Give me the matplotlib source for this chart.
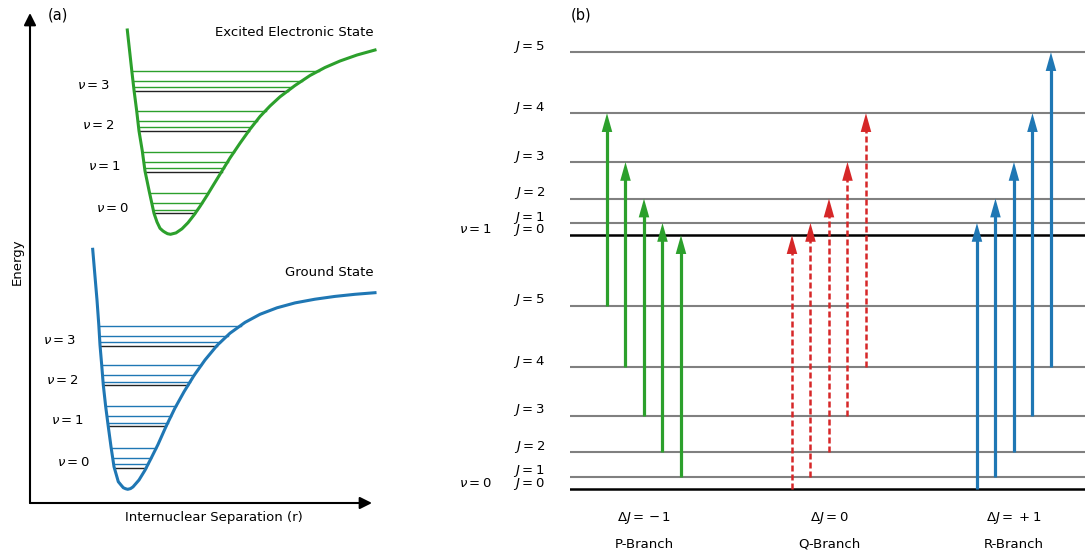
import numpy as np
import matplotlib
matplotlib.use("Agg")
import matplotlib.pyplot as plt

# ---------------- panel (a): potential curves ----------------
ground_r = [6.27, 6.70, 6.88, 7.00, 7.17, 7.33, 7.57, 7.83, 8.10, 8.40, 8.83, 9.10, 9.33, 9.55,
            9.77, 10.05, 10.30, 10.90, 11.50, 12.10, 12.80, 13.60, 14.50, 15.40, 16.40, 17.50,
            18.70, 20.00, 21.50, 23.00, 24.70, 26.50, 28.50, 30.50, 32.50, 34.50]
ground_E = [25.37, 20.30, 17.80, 15.80, 13.80, 11.80, 9.63, 7.63, 5.63, 3.63, 2.13, 1.80, 1.53, 1.43,
            1.37, 1.44, 1.61, 2.30, 3.28, 4.45, 5.85, 7.65, 9.50, 11.12, 12.75, 14.30,
            15.75, 16.98, 18.06, 18.87, 19.52, 20.01, 20.38, 20.66, 20.87, 21.03]

excited_r = [9.73, 10.17, 10.40, 10.67, 10.90, 11.23, 11.50, 11.93, 12.40, 12.70, 13.00, 13.30,
             13.50, 13.75, 14.05, 14.60, 15.20, 15.80, 16.40, 17.00, 17.70, 18.40, 19.20, 20.00,
             21.00, 22.00, 23.00, 24.00, 25.00, 26.50, 28.00, 29.50, 31.00, 32.70, 34.50]
excited_E = [47.30, 43.30, 41.30, 39.20, 37.20, 35.20, 33.20, 31.13, 28.97, 28.10, 27.47, 27.20,
             27.07, 26.93, 26.87, 27.01, 27.42, 28.03, 28.80, 29.66, 30.75, 31.90, 33.20, 34.50,
             35.98, 37.38, 38.65, 39.70, 40.62, 41.75, 42.75, 43.55, 44.20, 44.80, 45.30]

ground_v = [3.53, 7.70, 11.78, 15.75]      # J=0 level of each vibrational state
excited_v = [28.97, 33.13, 37.23, 41.23]
rot_offset = [0.0, 0.33, 1.0, 2.0]          # J = 0..3 above each v level
v_numbers = [0, 1, 2, 3]

# ---------------- panel (b): rotational ladders ----------------
J = [0, 1, 2, 3, 4, 5]
E_v0 = [0, 2, 6, 12, 20, 30]
E_v1 = [41.6, 43.6, 47.6, 53.6, 61.6, 71.6]
branch_names = ["P-Branch", "Q-Branch", "R-Branch"]
branch_text = [r"$\Delta J =\,{-}\,1$", r"$\Delta J = 0$", r"$\Delta J =\;{+}\,1$"]
delta_J = [-1, 0, 1]
start_J = [[5, 4, 3, 2, 1], [0, 1, 2, 3, 4], [0, 1, 2, 3, 4]]

blue, green, red = "#1f77b4", "#2ca02c", "#d62728"
fs = 9.5


def walls(r, E, level):
    r = np.asarray(r)
    E = np.asarray(E)
    i = np.argmin(E)
    left = np.interp(level, E[:i + 1][::-1], r[:i + 1][::-1])
    right = np.interp(level, E[i:], r[i:])
    return left, right


fig = plt.figure(figsize=(10.85, 5.55), dpi=100)

# ---- (a) ----
ax = fig.add_axes([30 / 1085, 52 / 555, 342 / 1085, 490 / 555])
ax.set_xlim(0, 34.2)
ax.set_ylim(0, 49.0)
for s in ax.spines.values():
    s.set_visible(False)
ax.set_xticks([])
ax.set_yticks([])
arrow_kw = dict(arrowstyle="-|>,head_length=0.8,head_width=0.4", color="k", lw=1.5,
                shrinkA=0, shrinkB=0, mutation_scale=9)
ax.annotate("", xy=(1, 0), xytext=(0, 0), xycoords="axes fraction", arrowprops=arrow_kw)
ax.annotate("", xy=(0, 1), xytext=(0, 0), xycoords="axes fraction", arrowprops=arrow_kw)

for r, E, levels, col in [(ground_r, ground_E, ground_v, blue),
                          (excited_r, excited_E, excited_v, green)]:
    for k, Ev in enumerate(levels):
        for j, off in enumerate(rot_offset):
            e = Ev + off
            a, b = walls(r, E, e)
            ax.plot([a, b], [e, e], color="#222222" if j == 0 else col, lw=1.0, zorder=1)
        a, _ = walls(r, E, Ev)
        ax.text(a - 2.45, Ev + 0.5, r"$\nu = %d$" % v_numbers[k], ha="right", va="center",
                fontsize=fs)
    ax.plot(r, E, color=col, lw=2.2, zorder=2, clip_on=False, solid_joinstyle="round")

ax.text(34.4, 47.1, "Excited Electronic State", ha="right", va="center", fontsize=fs)
ax.text(34.4, 23.1, "Ground State", ha="right", va="center", fontsize=fs)
ax.text(18.4, -1.5, "Internuclear Separation (r)", ha="center", va="center", fontsize=fs)
ax.text(-1.3, 24.1, "Energy", ha="center", va="center", rotation=90, fontsize=fs)
ax.text(1.8, 48.8, "(a)", ha="left", va="center", fontsize=10.5)

# ---- (b) ----
bx = fig.add_axes([570 / 1085, 0, 515 / 1085, 1])
bx.set_xlim(0, 27.84)
bx.set_ylim(-10.82, 80.16)
bx.axis("off")

for lv, ladder in enumerate([E_v0, E_v1]):
    for j, e in zip(J, ladder):
        if j == 0:
            bx.axhline(e, color="k", lw=1.8, zorder=1)
            bx.text(-4.22, e + 0.9, r"$\nu = %d$" % lv, ha="right", va="center", fontsize=fs)
        else:
            bx.axhline(e, color="gray", lw=1.5, zorder=1)
        bx.text(-1.35, e + 0.9, r"$J = %d$" % j, ha="right", va="center", fontsize=fs)

branch_x0 = [2, 12, 22]
branch_col = [green, red, blue]
for b in range(3):
    col = branch_col[b]
    ls = (0, (2.4, 1.2)) if delta_J[b] == 0 else "-"
    lw = 1.8 if delta_J[b] == 0 else 2.3
    for k, j0 in enumerate(start_J[b]):
        x = branch_x0[b] + k
        y0 = E_v0[j0]
        y1 = E_v1[j0 + delta_J[b]]
        bx.plot([x, x], [y0, y1 - 2.5], color=col, lw=lw, ls=ls, solid_capstyle="butt", zorder=2)
        bx.annotate("", xy=(x, y1), xytext=(x, y1 - 4),
                    arrowprops=dict(arrowstyle="-|>,head_length=1.35,head_width=0.38",
                                    color=col, lw=0, shrinkA=0, shrinkB=0, mutation_scale=10),
                    zorder=3)
    xc = branch_x0[b] + 2
    bx.text(xc, -4.75, branch_text[b], ha="center", va="center", fontsize=fs)
    bx.text(xc, -9.02, branch_names[b], ha="center", va="center", fontsize=fs)

bx.text(0.05, 77.7, "(b)", ha="left", va="center", fontsize=10.5)

fig.savefig("out.png", dpi=100)
